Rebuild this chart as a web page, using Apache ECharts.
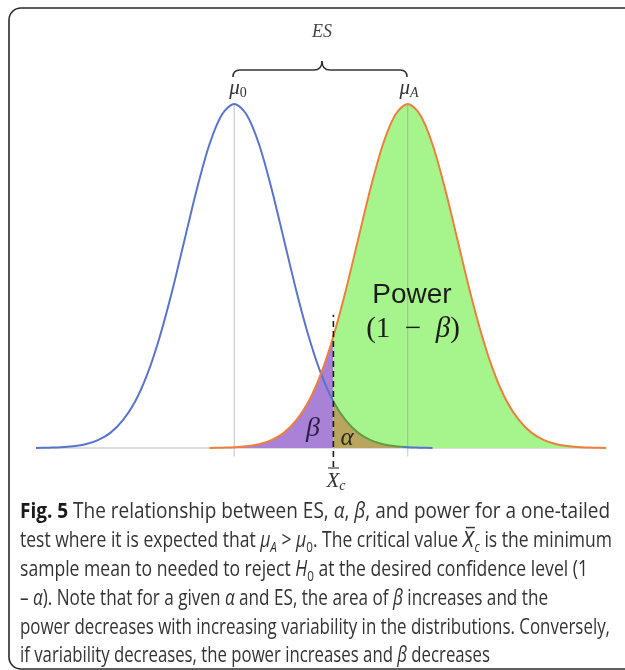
<!DOCTYPE html>
<html><head><meta charset="utf-8">
<script src="https://cdn.jsdelivr.net/npm/echarts@6/dist/echarts.min.js"></script>
<style>html,body{margin:0;padding:0;background:#fff}#c{width:625px;height:670px}</style>
</head><body><div id="c"></div>
<script>
// ---- data (x in units of sigma, mu0 = 0) ----
const xBlue = [-4,-3.75,-3.5,-3.25,-3,-2.75,-2.5,-2.25,-2,-1.75,-1.5,-1.25,-1,-0.75,-0.5,-0.25,0,0.25,0.5,0.75,1,1.25,1.5,1.75,2,2.25,2.5,2.75,3,3.25,3.5,3.75,4];
const blueDensity = [0.000,0.001,0.002,0.005,0.011,0.023,0.044,0.080,0.135,0.216,0.325,0.458,0.607,0.755,0.883,0.969,1.000,0.969,0.883,0.755,0.607,0.458,0.325,0.216,0.135,0.080,0.044,0.023,0.011,0.005,0.002,0.001,0.000];
const xOrange = [-0.5,-0.25,0,0.25,0.5,0.75,1,1.25,1.5,1.75,2,2.25,2.5,2.75,3,3.25,3.5,3.75,4,4.25,4.5,4.75,5,5.25,5.5,5.75,6,6.25,6.5,6.75,7,7.25,7.5];
const orangeDensity = [0.000,0.001,0.002,0.005,0.011,0.023,0.044,0.080,0.135,0.216,0.325,0.458,0.607,0.755,0.883,0.969,1.000,0.969,0.883,0.755,0.607,0.458,0.325,0.216,0.135,0.080,0.044,0.023,0.011,0.005,0.002,0.001,0.000];
const mu0 = 0;
const muA = 3.5;
const criticalX = 2;
const dashTop = 0.387;
const dashBottom = -0.055;
const guideBottom = -0.025;

const captionLines = [
  '{b|Fig. 5} The relationship between ES, {i|α}, {i|β}, and power for a one-tailed',
  'test where it is expected that {i|μ}{s|A} > {i|μ}{s0|0}. The critical value {i|X̅}{s|c} is the minimum',
  'sample mean to needed to reject {i|H}{s0|0} at the desired confidence level (1',
  '– {i|α}). Note that for a given {i|α} and ES, the area of {i|β} increases and the',
  'power decreases with increasing variability in the distributions. Conversely,',
  'if variability decreases, the power increases and {i|β} decreases'
];

// ---- build series data ----
const blueData = xBlue.map((x, i) => [x, blueDensity[i]]);
const orangeData = xOrange.map((x, i) => [x, orangeDensity[i]]);
const purpleData = orangeData.filter(p => p[0] <= criticalX);
const greenData = orangeData.filter(p => p[0] >= criticalX);
const oliveData = blueData.filter(p => p[0] >= criticalX);

const SM = 0.3;
const chart = echarts.init(document.getElementById('c'), null, {renderer: 'canvas'});

// ---- caption layout ----
const capFont = 21;
const subFont = 14;
const capFamily = '"Open Sans", "DejaVu Sans", sans-serif';
const capLeft = 20;
const capRight = [610, 612, 588, 548, 610, 490];
const capY = [512, 541, 570, 599, 628, 656];
const fontFor = {
  n: capFont + 'px ' + capFamily,
  b: 'bold ' + capFont + 'px ' + capFamily,
  i: 'italic ' + capFont + 'px ' + capFamily,
  s: 'italic ' + subFont + 'px ' + capFamily,
  s0: subFont + 'px ' + capFamily
};
const mctx = document.createElement('canvas').getContext('2d');
function measureRich(t) {
  let w = 0, last = 0;
  const re = /\{(\w+)\|([^}]*)\}/g;
  let m;
  while ((m = re.exec(t)) !== null) {
    if (m.index > last) { mctx.font = fontFor.n; w += mctx.measureText(t.slice(last, m.index)).width; }
    mctx.font = fontFor[m[1]]; w += mctx.measureText(m[2]).width;
    last = re.lastIndex;
  }
  if (last < t.length) { mctx.font = fontFor.n; w += mctx.measureText(t.slice(last)).width; }
  return w;
}
const capColor = '#333333';
const richCap = {
  b: {fontWeight: 'bold', fontSize: capFont, fontFamily: capFamily, fill: '#1a1a1a', lineHeight: 28},
  i: {fontStyle: 'italic', fontSize: capFont, fontFamily: capFamily, fill: capColor, lineHeight: 28},
  s: {fontStyle: 'italic', fontSize: subFont, fontFamily: capFamily, fill: capColor, lineHeight: 17, verticalAlign: 'bottom'},
  s0: {fontSize: subFont, fontFamily: capFamily, fill: capColor, lineHeight: 17, verticalAlign: 'bottom'}
};
const captionEls = captionLines.map((t, k) => ({
  type: 'text', x: capLeft, y: capY[k], scaleX: (capRight[k] - capLeft) / measureRich(t), z: 100,
  style: {text: t, fontSize: capFont, fontFamily: capFamily, fill: capColor, lineHeight: 28,
          align: 'left', verticalAlign: 'middle', rich: richCap}
}));

const serif = '"Liberation Serif", "DejaVu Serif", serif';
const mathRich = {
  m: {fontStyle: 'italic', fontSize: 21, fontFamily: serif, fill: '#333', lineHeight: 24},
  s: {fontStyle: 'italic', fontSize: 14, fontFamily: serif, fill: '#333', lineHeight: 13, verticalAlign: 'bottom'},
  s0: {fontSize: 14, fontFamily: serif, fill: '#333', lineHeight: 13, verticalAlign: 'bottom'}
};
const braceStyle = {fill: 'none', stroke: '#333', lineWidth: 1.6};
const braceEls = [
  {type: 'bezierCurve', z: 100, shape: {x1: 233, y1: 77, cpx1: 233, cpy1: 72, cpx2: 235, cpy2: 70, x2: 240, y2: 70}, style: braceStyle},
  {type: 'line', z: 100, shape: {x1: 240, y1: 70, x2: 314, y2: 70}, style: braceStyle},
  {type: 'bezierCurve', z: 100, shape: {x1: 314, y1: 70, cpx1: 319, cpy1: 70, cpx2: 322, cpy2: 68, x2: 322, y2: 61}, style: braceStyle},
  {type: 'bezierCurve', z: 100, shape: {x1: 322, y1: 61, cpx1: 322, cpy1: 68, cpx2: 325, cpy2: 70, x2: 330, y2: 70}, style: braceStyle},
  {type: 'line', z: 100, shape: {x1: 330, y1: 70, x2: 400, y2: 70}, style: braceStyle},
  {type: 'bezierCurve', z: 100, shape: {x1: 400, y1: 70, cpx1: 405, cpy1: 70, cpx2: 407, cpy2: 72, x2: 407, y2: 77}, style: braceStyle}
];

const option = {
  backgroundColor: '#ffffff',
  animation: false,
  grid: {left: 36, right: 19, top: 104, bottom: 187.6},
  xAxis: {type: 'value', min: -4, max: 7.5, show: false},
  yAxis: {type: 'value', min: -0.1, max: 1, show: false},
  visualMap: [{
    type: 'piecewise', show: false, seriesIndex: 6, dimension: 0,
    pieces: [
      {lt: criticalX, color: '#5874cb'},
      {gte: criticalX, lte: 3.4, color: '#5e9c4b'},
      {gt: 3.4, color: '#5874cb'}
    ]
  }],
  series: [
    {type: 'line', data: [[xBlue[0], 0], [xOrange[xOrange.length - 1], 0]], symbol: 'none', silent: true,
     lineStyle: {color: '#d2d2d2', width: 1.5}, z: 1},
    {type: 'line', data: purpleData, smooth: SM, symbol: 'none', silent: true,
     lineStyle: {width: 0}, areaStyle: {color: '#a981d6', opacity: 1}, z: 2},
    {type: 'line', data: greenData, smooth: SM, symbol: 'none', silent: true,
     lineStyle: {width: 0}, areaStyle: {color: '#a6f58c', opacity: 1}, z: 2},
    {type: 'line', data: oliveData, smooth: SM, symbol: 'none', silent: true,
     lineStyle: {width: 0}, areaStyle: {color: '#b9a55e', opacity: 1}, z: 3},
    {type: 'line', data: [[mu0, guideBottom], [mu0, 1]], symbol: 'none', silent: true,
     lineStyle: {color: 'rgba(120,120,120,0.45)', width: 1}, z: 4},
    {type: 'line', data: [[muA, guideBottom], [muA, 1]], symbol: 'none', silent: true,
     lineStyle: {color: 'rgba(120,120,120,0.4)', width: 1}, z: 4},
    {type: 'line', data: blueData, smooth: SM, symbol: 'none', silent: true,
     lineStyle: {width: 2}, z: 5},
    {type: 'line', data: orangeData, smooth: SM, symbol: 'none', silent: true,
     lineStyle: {color: '#ee7e3c', width: 2}, z: 6},
    {type: 'line', data: [[criticalX, dashBottom], [criticalX, dashTop]], symbol: 'none', silent: true,
     lineStyle: {color: '#1a1a1a', width: 1.6, type: [6, 4]}, z: 7}
  ],
  graphic: {elements: [
    {type: 'rect', shape: {x: 9, y: 8, width: 640, height: 661, r: 12}, z: 100,
     style: {fill: 'none', stroke: '#2b2b2b', lineWidth: 1.6}},
    {type: 'text', x: 322, y: 32, z: 100,
     style: {text: 'ES', fontStyle: 'italic', fontSize: 18, fontFamily: serif, fill: '#444', align: 'center', verticalAlign: 'middle'}},
    {type: 'text', x: 238, y: 88, z: 100,
     style: {text: '{m|μ}{s0|0}', rich: mathRich, align: 'center', verticalAlign: 'middle'}},
    {type: 'text', x: 409, y: 88, z: 100,
     style: {text: '{m|μ}{s|A}', rich: mathRich, align: 'center', verticalAlign: 'middle'}},
    {type: 'text', x: 412, y: 295, z: 100,
     style: {text: 'Power', fontSize: 28, fontFamily: '"Liberation Sans", Arial, sans-serif', fill: '#1c1c1c', align: 'center', verticalAlign: 'middle'}},
    {type: 'text', x: 413, y: 329, z: 100,
     style: {text: '(1\u2002−\u2002{i|β})', fontSize: 29, fontFamily: serif, fill: '#1c1c1c', align: 'center', verticalAlign: 'middle',
             rich: {i: {fontStyle: 'italic', fontSize: 29, fontFamily: serif, fill: '#1c1c1c'}}}},
    {type: 'text', x: 313, y: 429, z: 100,
     style: {text: 'β', fontStyle: 'italic', fontSize: 28, fontFamily: serif, fill: '#2a1f45', align: 'center', verticalAlign: 'middle'}},
    {type: 'text', x: 347, y: 438, z: 100,
     style: {text: 'α', fontStyle: 'italic', fontSize: 25, fontFamily: serif, fill: '#2a2a1a', align: 'center', verticalAlign: 'middle'}},
    {type: 'text', x: 336, y: 481, z: 100,
     style: {text: '{m|X}{s|c}', rich: mathRich, align: 'center', verticalAlign: 'middle'}},
    {type: 'line', z: 100, shape: {x1: 328, y1: 468, x2: 339, y2: 468}, style: {stroke: '#444', lineWidth: 1.2}}
  ].concat(braceEls).concat(captionEls)}
};
chart.setOption(option);
</script>
</body></html>
